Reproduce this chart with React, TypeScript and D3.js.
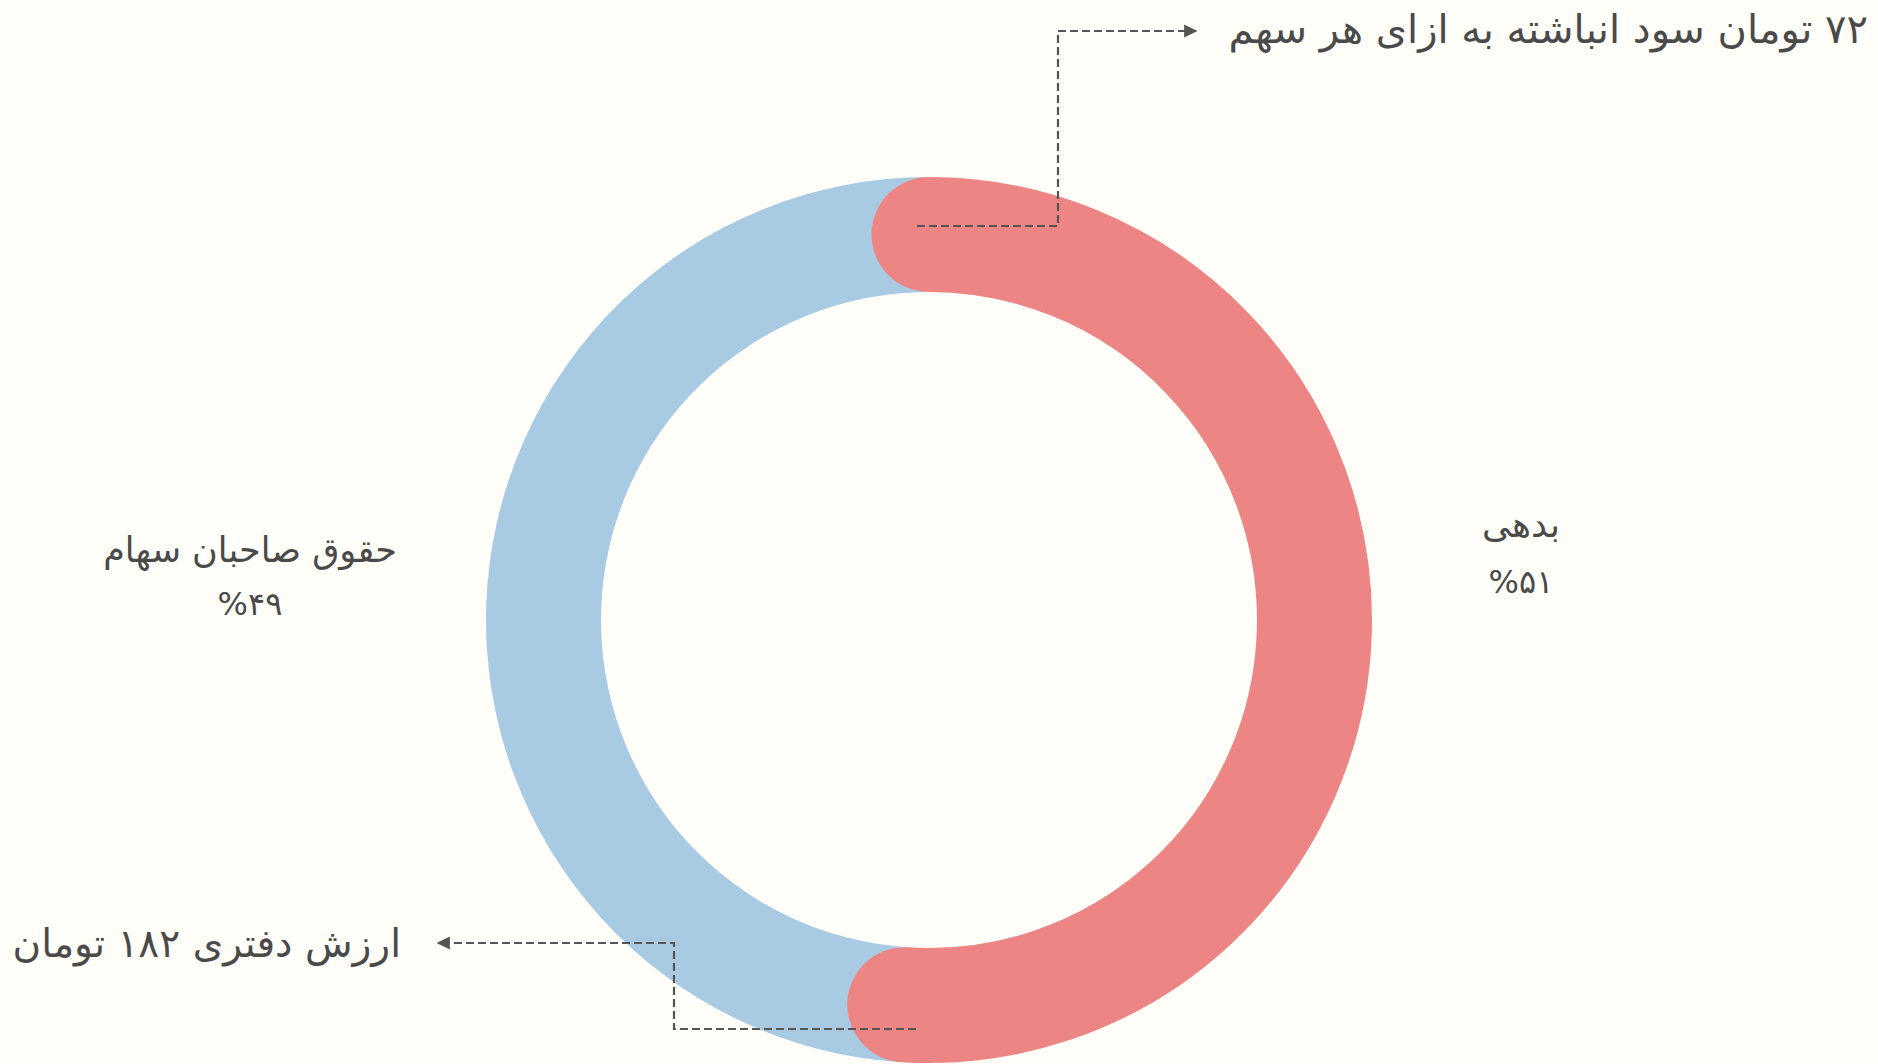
import React from "react";
import * as d3 from "d3";

const categories = ["بدهی", "حقوق صاحبان سهام"];
const values = [51, 49];
const percentLabels = ["%۵۱", "%۴۹"];
const colors = ["#ed8585", "#a8cbe3"];
const topNote = "۷۲ تومان سود انباشته به ازای هر سهم";
const bottomNote = "ارزش دفتری ۱۸۲ تومان";

const W = 1878;
const H = 1064;
const cx = 929;
const cy = 620;
const rOuter = 443;
const rInner = 328;
const rMid = (rOuter + rInner) / 2;
const thick = rOuter - rInner;
const textColor = "#4a4a4a";
const lineColor = "#555555";
const font = "'DejaVu Sans', sans-serif";

export default function App() {
  const pie = d3.pie<number>().sort(null)(values);
  const arcGen = d3.arc<any>().innerRadius(rInner).outerRadius(rOuter);

  const red = pie[0];
  const redPath = d3.path();
  redPath.arc(cx, cy, rMid, red.startAngle - Math.PI / 2, red.endAngle - Math.PI / 2, false);

  const topStart: [number, number] = [cx - 12, 226];
  const bottomStart: [number, number] = [cx - 13, 1029];

  return (
    <svg
      width={W}
      height={H}
      style={{ position: "absolute", left: 0, top: 0 }}
      xmlns="http://www.w3.org/2000/svg"
    >
      <defs>
        <marker id="arrow" viewBox="0 0 10 10" refX="9" refY="5" markerWidth="6" markerHeight="6" orient="auto">
          <path d="M0,0 L10,5 L0,10 Z" fill={lineColor} />
        </marker>
      </defs>
      <rect x={0} y={0} width={W} height={H} fill="#fffef8" />
      <path d={arcGen(pie[1]) as string} transform={`translate(${cx},${cy})`} fill={colors[1]} />
      <path d={redPath.toString()} fill="none" stroke={colors[0]} strokeWidth={thick} strokeLinecap="round" />

      <polyline
        points={`${topStart[0]},${topStart[1]} 1058,${topStart[1]} 1058,31 1196,31`}
        fill="none"
        stroke={lineColor}
        strokeWidth={2.2}
        strokeDasharray="8,4"
        markerEnd="url(#arrow)"
      />
      <text x={1868} y={43} direction="rtl" textAnchor="start" fontFamily={font} fontSize={40} fill={textColor}>
        {topNote}
      </text>

      <polyline
        points={`${bottomStart[0]},${bottomStart[1]} 674,${bottomStart[1]} 674,943 438,943`}
        fill="none"
        stroke={lineColor}
        strokeWidth={2.2}
        strokeDasharray="8,4"
        markerEnd="url(#arrow)"
      />
      <text x={401} y={957} direction="rtl" textAnchor="start" fontFamily={font} fontSize={39} fill={textColor}>
        {bottomNote}
      </text>

      <text x={1521} y={537} direction="rtl" textAnchor="middle" fontFamily={font} fontSize={36} fill={textColor}>
        {categories[0]}
      </text>
      <text x={1521} y={593} textAnchor="middle" fontFamily={font} fontSize={32} fill={textColor}>
        {percentLabels[0]}
      </text>
      <text x={250} y={562} direction="rtl" textAnchor="middle" fontFamily={font} fontSize={35} fill={textColor}>
        {categories[1]}
      </text>
      <text x={250} y={615} textAnchor="middle" fontFamily={font} fontSize={32} fill={textColor}>
        {percentLabels[1]}
      </text>
    </svg>
  );
}
